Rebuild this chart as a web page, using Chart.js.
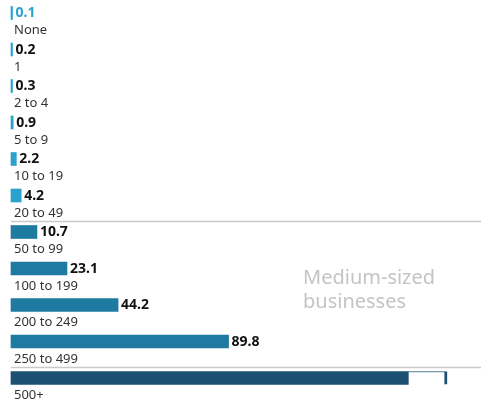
<!DOCTYPE html>
<html>
<head>
<meta charset="utf-8">
<script src="https://cdn.jsdelivr.net/npm/chart.js@4/dist/chart.umd.min.js"></script>
<style>
  body { margin: 0; background: #fff; }
  #wrap { width: 481px; height: 406px; }
</style>
</head>
<body>
<div id="wrap"><canvas id="sizeChart" width="481" height="406"></canvas></div>
<script>
// employees per business (size band) and share values
const categories = ['None', '1', '2 to 4', '5 to 9', '10 to 19', '20 to 49',
    '50 to 99', '100 to 199', '200 to 249', '250 to 499', '500+'];
const values = [0.1, 0.2, 0.3, 0.9, 2.2, 4.2, 10.7, 23.1, 44.2, 89.8, 164];
const valueLabels = ['0.1', '0.2', '0.3', '0.9', '2.2', '4.2', '10.7', '23.1', '44.2', '89.8', ''];
// the 500+ bar runs off the scale, shown with a broken end
const breakStub = [null, null, null, null, null, null, null, null, null, null, 16];
const groups = ['small', 'small', 'small', 'small', 'small', 'small',
    'medium', 'medium', 'medium', 'medium', 'large'];
const groupBreaks = ['20 to 49', '250 to 499'];

const groupColors = { small: '#2ba1cd', medium: '#1f7aa1', large: '#1b5073' };

const labelsPlugin = {
    id: 'labelsPlugin',
    afterDatasetsDraw(chart) {
        const ctx = chart.ctx;
        const xs = chart.scales.x;
        const ys = chart.scales.y;
        const area = chart.chartArea;
        ctx.save();

        // separator lines between size groups
        ctx.strokeStyle = '#cacaca';
        ctx.lineWidth = 1.5;
        groupBreaks.forEach(function(name) {
            const i = categories.indexOf(name);
            const y = (ys.getPixelForValue(i) + ys.getPixelForValue(i + 1)) / 2 + 7.5;
            ctx.beginPath();
            ctx.moveTo(area.left, Math.round(y) + 0.5);
            ctx.lineTo(chart.width, Math.round(y) + 0.5);
            ctx.stroke();
        });

        const meta = chart.getDatasetMeta(0);
        categories.forEach(function(cat, i) {
            const bar = meta.data[i];
            const yc = ys.getPixelForValue(i);
            // category label under the bar
            ctx.font = '13px "Noto Sans"';
            ctx.fillStyle = '#333';
            ctx.textAlign = 'left';
            ctx.textBaseline = 'middle';
            ctx.fillText(cat, area.left + 3, yc + 17.5);
            // value label after the bar
            if (valueLabels[i]) {
                ctx.font = 'bold 14px "Noto Sans"';
                ctx.fillStyle = i === 0 ? groupColors.small : '#111';
                ctx.fillText(valueLabels[i], Math.max(bar.x, xs.left + 1) + 3, yc + 0.5);
            }
        });

        // annotation
        ctx.font = '20px "Noto Sans"';
        ctx.fillStyle = '#c4c4c4';
        ctx.textBaseline = 'middle';
        ctx.fillText('Medium-sized', 303, 278);
        ctx.fillText('businesses', 303, 302);
        ctx.restore();
    }
};

const ctx = document.getElementById('sizeChart').getContext('2d');
const sizeChart = new Chart(ctx, {
    type: 'bar',
    data: {
        labels: categories,
        datasets: [{
            data: values,
            backgroundColor: groups.map(function(g) { return groupColors[g]; }),
            barThickness: 13,
            minBarLength: 1.5,
            clip: false
        }, {
            data: breakStub,
            backgroundColor: '#ffffff',
            borderColor: groupColors.large,
            borderWidth: { top: 1, right: 3, bottom: 0, left: 0 },
            borderSkipped: false,
            barThickness: 13,
            clip: false
        }]
    },
    plugins: [labelsPlugin],
    options: {
        indexAxis: 'y',
        responsive: false,
        animation: false,
        layout: { padding: { left: 11, right: 0, top: 13, bottom: 28 } },
        scales: {
            x: { display: false, min: 0, max: 194, stacked: true },
            y: { display: false, offset: false, stacked: true }
        },
        plugins: {
            legend: { display: false },
            tooltip: { enabled: false }
        }
    }
});
</script>
</body>
</html>
